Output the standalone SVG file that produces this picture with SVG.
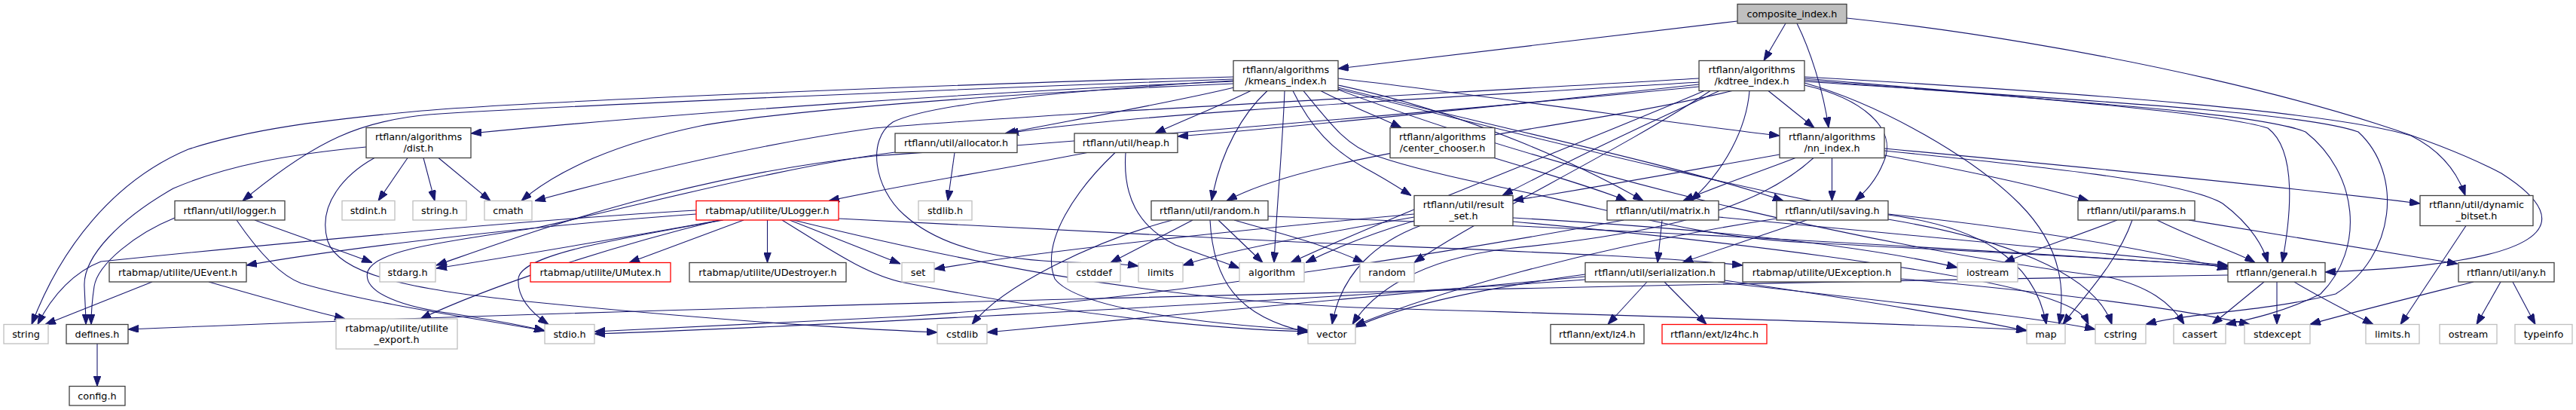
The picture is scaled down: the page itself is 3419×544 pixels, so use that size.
<svg xmlns="http://www.w3.org/2000/svg" width="3419" height="544" viewBox="0 0 3419 544">
<defs>
<marker id="a" viewBox="0 0 14 10" refX="14" refY="5" markerWidth="14" markerHeight="10" markerUnits="userSpaceOnUse" orient="auto">
<path d="M0,0 L14,5 L0,10 z" fill="#191970" stroke="#191970" stroke-width="1"/>
</marker>
</defs>
<style>
.node rect{fill:#ffffff;stroke:#404040;stroke-width:1.3}
.node.sys rect{stroke:#bfbfbf}
.node.red rect{stroke:#ff0000}
.node.root rect{fill:#bfbfbf;stroke:#404040}
text{font-family:"DejaVu Sans","Liberation Sans",sans-serif;font-size:12.8px;text-anchor:middle;fill:#000000}
#edges path{fill:none;stroke:#191970;stroke-width:1.1;marker-end:url(#a)}
</style>
<rect x="0" y="0" width="3419" height="544" fill="#ffffff"/>
<g id="edges">
<path d="M2306,28 L1776,91"/>
<path d="M2370,31 L2341,80.5"/>
<path d="M2385,31 C2402,65 2420,120 2427,169.5"/>
<path d="M2451,24 C2750,55 3150,140 3320,230 C3430,300 3380,350 3086,361"/>
<path d="M1637,102 C1300,110 700,135 560,147 C420,160 330,172 250,198 C150,240 80,330 42,430.5"/>
<path d="M1637,105 C1300,117 750,140 570,152 C480,160 420,185 322,266.5"/>
<path d="M1637,108 C1300,122 900,150 625,177"/>
<path d="M1637,111 C1300,125 1020,150 930,167 C820,190 740,225 692,266.5"/>
<path d="M1638,116 C1560,135 1420,160 1334,177"/>
<path d="M1660,120.5 C1620,140 1570,160 1533,177"/>
<path d="M1682,120.5 C1650,150 1620,200 1608,266.5"/>
<path d="M1705,120.5 C1702,200 1694,280 1691,348.5"/>
<path d="M1716,120.5 C1740,170 1770,200 1810,222 C1840,238 1855,248 1873,259.5"/>
<path d="M1753,120.5 C1790,140 1830,155 1860,169.5"/>
<path d="M1776,113 C1950,150 2110,225 2181,266.5"/>
<path d="M1776,104 C2000,130 2250,168 2362,180"/>
<path d="M1776,116 C1950,160 2250,225 2367,266.5"/>
<path d="M1730,120.5 C1770,170 1790,195 1827,207 C1880,225 1950,240 2000,250 C2150,280 2250,315 2400,322 C2650,335 2850,345 2957,354"/>
<path d="M1776,118 C2100,200 2400,270 2506,285 C2620,300 2700,340 2716,430.5"/>
<path d="M1637,107 C1450,118 1240,135 1185,162 C1150,185 1160,250 1200,285 C1250,330 1330,345 1420,348 C1460,349 1490,350 1511,353"/>
<path d="M1776,119 C2100,240 2500,330 2800,368 C2850,380 2880,400 2899,430.5"/>
<path d="M2347,120.5 L2408,169.5"/>
<path d="M2322,120.5 C2318,170 2290,225 2244,266.5"/>
<path d="M2282,120.5 C2150,180 2050,230 1994,259.5"/>
<path d="M2255,112 C2000,140 1700,170 1563,181"/>
<path d="M2255,109 C2000,125 1500,150 1338,177"/>
<path d="M2299,120.5 C2100,170 1750,200 1628,266.5"/>
<path d="M2262,120.5 C2100,190 1850,285 1713,348.5"/>
<path d="M2270,120.5 C2150,200 1960,290 1877,348.5"/>
<path d="M2255,104 C1900,125 1400,150 1160,170 C1050,185 900,215 710,266.5"/>
<path d="M2255,115 C1900,150 1400,190 1160,207 C900,235 700,310 579,352"/>
<path d="M2395,104 C2700,130 2950,150 3010,170 C3050,200 3040,290 3029,348.5"/>
<path d="M2395,102 C2800,125 3100,150 3200,180 C3240,200 3262,230 3272,259.5"/>
<path d="M2395,106 C2750,135 3000,150 3060,175 C3130,230 3140,330 3080,390 C3030,415 2980,425 2954,430.5"/>
<path d="M2395,108 C2800,135 3060,150 3130,175 C3190,230 3180,340 3100,390 C3000,415 2900,415 2848,430.5"/>
<path d="M2395,110 C2500,140 2620,210 2680,270 C2740,330 2740,390 2733,430.5"/>
<path d="M2395,113 C2470,130 2520,170 2500,215 C2490,240 2475,255 2462,266.5"/>
<path d="M2383,209.5 C2330,230 2270,250 2234,266.5"/>
<path d="M2362,205 C2250,225 2080,255 2008,266"/>
<path d="M2431.5,209.5 L2431.5,266.5"/>
<path d="M2501,206 C2600,225 2700,245 2772,266.5"/>
<path d="M2501,200 C2700,220 2900,240 2950,270 C2990,300 3005,330 3010,348.5"/>
<path d="M2501,197 C2800,225 3050,250 3212,270"/>
<path d="M2407,209.5 C2330,280 2200,310 2000,330 C1880,345 1820,390 1795,430.5"/>
<path d="M1877,284 C1700,300 1400,330 1240,357"/>
<path d="M1877,288 C1750,310 1620,335 1570,352"/>
<path d="M1877,293 C1820,310 1770,330 1733,348.5"/>
<path d="M1885,299.5 C1830,320 1780,360 1768,430.5"/>
<path d="M2008,289 C2200,300 2450,320 2598,355"/>
<path d="M2008,294 C2300,320 2600,360 2700,390 C2750,405 2765,415 2772,430.5"/>
<path d="M2206,292 L2200,348.5"/>
<path d="M2155,292 C1900,340 1500,400 1200,420 C1000,430 850,437 789,440"/>
<path d="M2281,288 C2500,310 2800,335 2957,352"/>
<path d="M2398,292 C2330,315 2270,335 2233,348.5"/>
<path d="M2358,290 C2100,330 1900,390 1798,432"/>
<path d="M2506,284 C2700,305 2850,330 2957,357"/>
<path d="M2506,291 C2650,315 2780,360 2803,430.5"/>
<path d="M2186,374 L2134,430.5"/>
<path d="M2209,374 L2265,430.5"/>
<path d="M2289,372 C2450,395 2600,420 2690,439"/>
<path d="M2104,364 C1950,385 1850,410 1799,434"/>
<path d="M2104,367 C1800,395 1500,425 1310,441"/>
<path d="M2104,371 C1700,400 1100,432 789,443"/>
<path d="M2280,374 C2500,400 2700,420 2781,437"/>
<path d="M987,292 L835,348.5"/>
<path d="M1018.5,292 L1018.5,348.5"/>
<path d="M924,284 C700,300 450,330 327,352"/>
<path d="M924,279 C700,292 400,320 134,347 C100,360 70,390 50,430.5"/>
<path d="M957,292 C800,320 650,345 579,356"/>
<path d="M955,292 C800,330 650,380 558,423"/>
<path d="M960,292 C800,320 690,340 688,370 C686,395 705,415 728,430.5"/>
<path d="M1048,292 L1195,350"/>
<path d="M1038,292 C1100,330 1150,365 1200,375 C1400,415 1600,436 1736,440"/>
<path d="M1053,292 C1250,340 1500,395 1800,408 C2200,420 2500,428 2690,438"/>
<path d="M1113,290 C1400,305 1600,315 1720,321 C2000,333 2200,340 2313,352"/>
<path d="M202,374 C150,395 100,415 60,430.5"/>
<path d="M277,374 C350,395 410,412 458,423"/>
<path d="M2523,370 C2700,385 2900,410 2986,430.5"/>
<path d="M232,289 C180,310 130,350 125,380 C122,400 121,415 121,430.5"/>
<path d="M338,292 C400,315 460,335 494,348.5"/>
<path d="M314,292 C340,330 370,365 400,376 C500,405 650,425 723,439"/>
<path d="M541,209.5 L502,266.5"/>
<path d="M562,209.5 L577,266.5"/>
<path d="M582,209.5 L651,266.5"/>
<path d="M486,195 C380,205 300,220 230,250 C160,290 110,340 112,380 C113,405 114,418 114,430.5"/>
<path d="M497,209.5 C460,230 420,270 435,320 C450,365 550,385 700,400 C900,420 1100,435 1244,441"/>
<path d="M129,456 L129,512.5"/>
<path d="M1267,202.5 L1258,266.5"/>
<path d="M1188,202 C1050,220 900,260 713,302 C600,320 500,330 488,360 C480,390 540,408 600,416 C650,424 700,433 723,439"/>
<path d="M1494,202.5 C1490,260 1510,300 1560,325 C1600,340 1630,350 1645,356"/>
<path d="M1480,202.5 C1430,250 1380,320 1400,370 C1430,410 1600,430 1736,438"/>
<path d="M1443,202.5 C1300,230 1200,245 1100,266.5"/>
<path d="M1556,292 C1450,320 1330,380 1290,430.5"/>
<path d="M1583,292 L1474,348.5"/>
<path d="M1617,292 L1676,348.5"/>
<path d="M1638,292 C1700,310 1760,325 1810,348.5"/>
<path d="M1606,292 C1610,370 1640,420 1736,441"/>
<path d="M1683,287 C2100,300 2600,330 2957,353"/>
<path d="M1983,209.5 C2050,230 2120,250 2159,266.5"/>
<path d="M2810,292 C2750,315 2690,335 2660,348.5"/>
<path d="M2830,292 C2810,350 2760,400 2738,430.5"/>
<path d="M2863,292 C2920,320 2970,335 2993,348.5"/>
<path d="M2905,292 C3050,315 3200,340 3262,350"/>
<path d="M3283,374 C3200,395 3100,420 3066,430.5"/>
<path d="M3319,374 L3287,430.5"/>
<path d="M3335,374 L3365,430.5"/>
<path d="M2957,365 C2000,380 800,410 170,437"/>
<path d="M3005,374 L2936,430.5"/>
<path d="M3022,374 L3022,430.5"/>
<path d="M3045,374 C3080,395 3120,415 3150,430.5"/>
<path d="M3273,299.5 L3186,430.5"/>
</g>
<g id="composite_index" class="node root"><rect x="2306" y="5.5" width="145" height="25.5"/><text x="2378.5" y="22.5">composite_index.h</text></g>
<g id="kmeans_index" class="node"><rect x="1637" y="80.5" width="139" height="40"/><text x="1706.5" y="97">rtflann/algorithms</text><text x="1706.5" y="112">/kmeans_index.h</text></g>
<g id="kdtree_index" class="node"><rect x="2255" y="80.5" width="140" height="40"/><text x="2325" y="97">rtflann/algorithms</text><text x="2325" y="112">/kdtree_index.h</text></g>
<g id="dist" class="node"><rect x="486" y="169.5" width="139" height="40"/><text x="555.5" y="186">rtflann/algorithms</text><text x="555.5" y="201">/dist.h</text></g>
<g id="allocator" class="node"><rect x="1188" y="177" width="162" height="25.5"/><text x="1269" y="194">rtflann/util/allocator.h</text></g>
<g id="heap" class="node"><rect x="1426" y="177" width="137" height="25.5"/><text x="1494.5" y="194">rtflann/util/heap.h</text></g>
<g id="center_chooser" class="node"><rect x="1845" y="169.5" width="139" height="40"/><text x="1914.5" y="186">rtflann/algorithms</text><text x="1914.5" y="201">/center_chooser.h</text></g>
<g id="nn_index" class="node"><rect x="2362" y="169.5" width="139" height="40"/><text x="2431.5" y="186">rtflann/algorithms</text><text x="2431.5" y="201">/nn_index.h</text></g>
<g id="logger" class="node"><rect x="232" y="266.5" width="146" height="25.5"/><text x="305" y="283.5">rtflann/util/logger.h</text></g>
<g id="stdint" class="node sys"><rect x="454" y="266.5" width="70" height="25.5"/><text x="489" y="283.5">stdint.h</text></g>
<g id="string_h" class="node sys"><rect x="548" y="266.5" width="71" height="25.5"/><text x="583.5" y="283.5">string.h</text></g>
<g id="cmath" class="node sys"><rect x="643" y="266.5" width="63" height="25.5"/><text x="674.5" y="283.5">cmath</text></g>
<g id="ULogger" class="node red"><rect x="924" y="266.5" width="189" height="25.5"/><text x="1018.5" y="283.5">rtabmap/utilite/ULogger.h</text></g>
<g id="stdlib" class="node sys"><rect x="1219" y="266.5" width="71" height="25.5"/><text x="1254.5" y="283.5">stdlib.h</text></g>
<g id="random_h" class="node"><rect x="1528" y="266.5" width="155" height="25.5"/><text x="1605.5" y="283.5">rtflann/util/random.h</text></g>
<g id="result_set" class="node"><rect x="1877" y="259.5" width="131" height="40"/><text x="1942.5" y="276">rtflann/util/result</text><text x="1942.5" y="291">_set.h</text></g>
<g id="matrix" class="node"><rect x="2133" y="266.5" width="148" height="25.5"/><text x="2207" y="283.5">rtflann/util/matrix.h</text></g>
<g id="saving" class="node"><rect x="2358" y="266.5" width="148" height="25.5"/><text x="2432" y="283.5">rtflann/util/saving.h</text></g>
<g id="params" class="node"><rect x="2758" y="266.5" width="155" height="25.5"/><text x="2835.5" y="283.5">rtflann/util/params.h</text></g>
<g id="dynamic_bitset" class="node"><rect x="3212" y="259.5" width="150" height="40"/><text x="3287" y="276">rtflann/util/dynamic</text><text x="3287" y="291">_bitset.h</text></g>
<g id="UEvent" class="node"><rect x="145" y="348.5" width="182" height="25.5"/><text x="236" y="365.5">rtabmap/utilite/UEvent.h</text></g>
<g id="stdarg" class="node sys"><rect x="504" y="348.5" width="74" height="25.5"/><text x="541" y="365.5">stdarg.h</text></g>
<g id="UMutex" class="node red"><rect x="704" y="348.5" width="186" height="25.5"/><text x="797" y="365.5">rtabmap/utilite/UMutex.h</text></g>
<g id="UDestroyer" class="node"><rect x="915" y="348.5" width="208" height="25.5"/><text x="1019" y="365.5">rtabmap/utilite/UDestroyer.h</text></g>
<g id="set" class="node sys"><rect x="1197" y="348.5" width="43" height="25.5"/><text x="1218.5" y="365.5">set</text></g>
<g id="cstddef" class="node sys"><rect x="1417" y="348.5" width="70" height="25.5"/><text x="1452" y="365.5">cstddef</text></g>
<g id="limits" class="node sys"><rect x="1511" y="348.5" width="59" height="25.5"/><text x="1540.5" y="365.5">limits</text></g>
<g id="algorithm" class="node sys"><rect x="1645" y="348.5" width="86" height="25.5"/><text x="1688" y="365.5">algorithm</text></g>
<g id="random" class="node sys"><rect x="1805" y="348.5" width="72" height="25.5"/><text x="1841" y="365.5">random</text></g>
<g id="serialization" class="node"><rect x="2104" y="348.5" width="185" height="25.5"/><text x="2196.5" y="365.5">rtflann/util/serialization.h</text></g>
<g id="UException" class="node"><rect x="2313" y="348.5" width="210" height="25.5"/><text x="2418" y="365.5">rtabmap/utilite/UException.h</text></g>
<g id="iostream" class="node sys"><rect x="2598" y="348.5" width="80" height="25.5"/><text x="2638" y="365.5">iostream</text></g>
<g id="general" class="node"><rect x="2957" y="348.5" width="129" height="25.5"/><text x="3021.5" y="365.5">rtflann/general.h</text></g>
<g id="any" class="node"><rect x="3263" y="348.5" width="127" height="25.5"/><text x="3326.5" y="365.5">rtflann/util/any.h</text></g>
<g id="string" class="node sys"><rect x="5" y="430.5" width="59" height="25.5"/><text x="34.5" y="447.5">string</text></g>
<g id="defines" class="node"><rect x="88" y="430.5" width="82" height="25.5"/><text x="129" y="447.5">defines.h</text></g>
<g id="utilite_export" class="node sys"><rect x="446" y="423" width="161" height="40"/><text x="526.5" y="439.5">rtabmap/utilite/utilite</text><text x="526.5" y="454.5">_export.h</text></g>
<g id="stdio" class="node sys"><rect x="723" y="430.5" width="66" height="25.5"/><text x="756" y="447.5">stdio.h</text></g>
<g id="cstdlib" class="node sys"><rect x="1244" y="430.5" width="66" height="25.5"/><text x="1277" y="447.5">cstdlib</text></g>
<g id="vector" class="node sys"><rect x="1736" y="430.5" width="63" height="25.5"/><text x="1767.5" y="447.5">vector</text></g>
<g id="lz4" class="node"><rect x="2058" y="430.5" width="124" height="25.5"/><text x="2120" y="447.5">rtflann/ext/lz4.h</text></g>
<g id="lz4hc" class="node red"><rect x="2206" y="430.5" width="139" height="25.5"/><text x="2275.5" y="447.5">rtflann/ext/lz4hc.h</text></g>
<g id="map" class="node sys"><rect x="2690" y="430.5" width="51" height="25.5"/><text x="2715.5" y="447.5">map</text></g>
<g id="cstring" class="node sys"><rect x="2781" y="430.5" width="67" height="25.5"/><text x="2814.5" y="447.5">cstring</text></g>
<g id="cassert" class="node sys"><rect x="2885" y="430.5" width="69" height="25.5"/><text x="2919.5" y="447.5">cassert</text></g>
<g id="stdexcept" class="node sys"><rect x="2979" y="430.5" width="87" height="25.5"/><text x="3022.5" y="447.5">stdexcept</text></g>
<g id="limits_h" class="node sys"><rect x="3140" y="430.5" width="71" height="25.5"/><text x="3175.5" y="447.5">limits.h</text></g>
<g id="ostream" class="node sys"><rect x="3238" y="430.5" width="76" height="25.5"/><text x="3276" y="447.5">ostream</text></g>
<g id="typeinfo" class="node sys"><rect x="3338" y="430.5" width="76" height="25.5"/><text x="3376" y="447.5">typeinfo</text></g>
<g id="config" class="node"><rect x="92" y="512.5" width="74" height="25.5"/><text x="129" y="529.5">config.h</text></g>
</svg>
